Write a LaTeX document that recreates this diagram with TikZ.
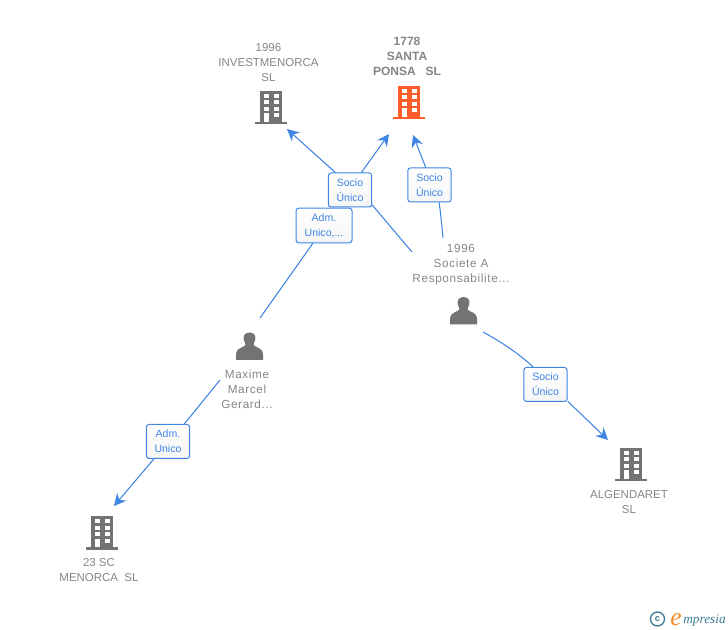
\documentclass[tikz,border=0pt]{standalone}
\usepackage{fontspec}
\setmainfont{Liberation Sans}
\newfontfamily\logofont{Liberation Serif}
\usetikzlibrary{arrows.meta}
\definecolor{linkblue}{HTML}{3F85E3}
\definecolor{labelgrey}{HTML}{858585}
\definecolor{icongrey}{HTML}{737373}
\definecolor{iconorange}{HTML}{FF5C2B}
\definecolor{logoteal}{HTML}{3B7C94}
\definecolor{logoorange}{HTML}{F08A24}
\tikzset{
  x=0.75pt,y=-0.75pt,
  namelabel/.style={align=center,text=labelgrey,font=\fontsize{8.6pt}{11.25pt}\selectfont,inner sep=0pt},
  personlabel/.style={namelabel,font=\fontsize{8.8pt}{11.25pt}\selectfont\addfontfeatures{LetterSpace=5.5}},
  mainlabel/.style={namelabel,font=\fontsize{9pt}{11.25pt}\selectfont\bfseries},
  rolebox/.style={draw=linkblue,line width=0.75pt,rounded corners=2pt,top color=white,bottom color=black!4,
    text=linkblue,align=center,font=\fontsize{7.9pt}{11.25pt}\selectfont,inner sep=0pt},
  link/.style={draw=linkblue,line width=0.8pt},
  arrowlink/.style={link,-{Stealth[length=9pt,width=9pt,inset=3pt]}},
  pics/building/.style={code={
    \fill[#1] (-11,-16) rectangle (11,15);
    \fill[#1] (-16,15) rectangle (16,17.5);
    \foreach \yy in {-13,-6.5,0,6.5}{
      \fill[white] (-7,\yy) rectangle (-2,\yy+4);
      \fill[white] (3,\yy) rectangle (8,\yy+4);
    }
    \fill[white] (-7,7) rectangle (-2,15);
  }},
  pics/person/.style={code={
    \fill[#1] (0,-14) .. controls (-6,-14) and (-6.5,-9) .. (-5.5,-6)
      .. controls (-5,-4) and (-4,-3) .. (-4,-1.5)
      .. controls (-5,0.5) and (-13.5,1.5) .. (-13.5,7) -- (-13.5,13.5) -- (13.5,13.5) -- (13.5,7)
      .. controls (13.5,1.5) and (5,0.5) .. (4,-1.5)
      .. controls (4,-3) and (5,-4) .. (5.5,-6)
      .. controls (6.5,-9) and (6,-14) .. (0,-14) -- cycle;
  }},
}
\begin{document}
\begin{tikzpicture}
\useasboundingbox (0,0) rectangle (728,630);
% icons
\pic at (271,107) {building=icongrey};
\pic at (409,102) {building=iconorange};
\pic at (631,464) {building=icongrey};
\pic at (102,532) {building=icongrey};
\pic at (463.5,311) {person=icongrey};
\pic at (249.5,346.5) {person=icongrey};
% labels
\node[namelabel] (invest) at (268.5,63) {1996\\INVESTMENORCA\\SL};
\node[mainlabel] (santa) at (407,56) {1778\\SANTA\\PONSA\ \ \ SL};
\node[personlabel] (societe) at (461,265) {1996\\Societe A\\Responsabilite...};
\node[personlabel] (maxime) at (247,389) {Maxime\\Marcel\\Gerard...};
\node[namelabel] (algen) at (629,502.5) {ALGENDARET\\SL};
\node[namelabel] (sc) at (99,570.5) {23 SC\\MENORCA\ \ SL};
% role boxes
\node[rolebox,minimum width=32.5pt,minimum height=25.5pt] (boxa) at (350,190) {Socio\\Único};
\node[rolebox,minimum width=32.5pt,minimum height=25.5pt] (boxb) at (429.5,185) {Socio\\Único};
\node[rolebox,minimum width=42pt,minimum height=26pt] (boxc) at (324,225.5) {Adm.\\Unico,...};
\node[rolebox,minimum width=32.5pt,minimum height=25.5pt] (boxd) at (545.5,384.5) {Socio\\Único};
\node[rolebox,minimum width=32.5pt,minimum height=25.5pt] (boxe) at (168,441.5) {Adm.\\Unico};
% free ends
\coordinate (tipinvest) at (287,129);
\coordinate (tipsanta) at (389,134);
\coordinate (tipsantb) at (413,135);
\coordinate (tipalgen) at (608,440);
\coordinate (tipsc) at (114,506);
\coordinate (fromsocietea) at (412,252);
\coordinate (fromsocieteb) at (443,238);
\coordinate (fromsocietec) at (483,332);
\coordinate (frommaxa) at (260,318);
\coordinate (frommaxb) at (220,380);
% connectors
\draw[arrowlink] (boxa.130) -- (tipinvest);
\draw[arrowlink] (boxa.57) -- (tipsanta);
\draw[link] (fromsocietea) -- (boxa.-34);
\draw[arrowlink] (boxb.102) -- (tipsantb);
\draw[link] (fromsocieteb) .. controls (442,226) and (440.5,213) .. (boxb.-61);
\draw[link] (frommaxa) -- (boxc.-122);
\draw[link] (fromsocietec) .. controls (505,344) and (520,355) .. (boxd.125.5);
\draw[arrowlink] (boxd.-37.5) -- (tipalgen);
\draw[link] (frommaxb) -- (boxe.47.6);
\draw[arrowlink] (boxe.-129) -- (tipsc);
% logo
\node[draw=logoteal,line width=1pt,circle,inner sep=0pt,minimum size=10.5pt,text=logoteal,
  font=\fontsize{7pt}{7pt}\selectfont\bfseries] (copyr) at (657.5,619) {c};
\node[anchor=base west,inner sep=0pt,text=logoorange,font=\logofont\itshape\fontsize{19pt}{19pt}\selectfont] (logoe) at (670,625) {e};
\node[anchor=base west,inner sep=0pt,text=logoteal,font=\logofont\itshape\fontsize{10pt}{10pt}\selectfont] (logotext) at (683,623) {mpresia};
\end{tikzpicture}
\end{document}
